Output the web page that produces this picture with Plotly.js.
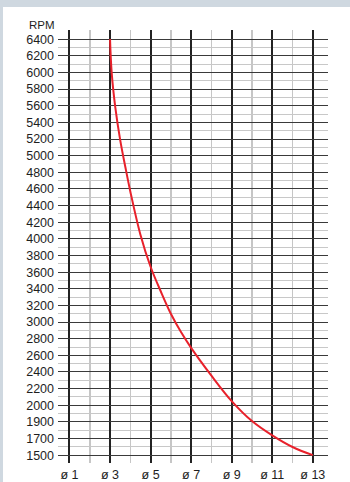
<!DOCTYPE html>
<html>
<head>
<meta charset="utf-8">
<script src="https://cdn.plot.ly/plotly-3.0.1.min.js"></script>
<style>
  html, body { margin: 0; padding: 0; width: 350px; height: 482px; background: #cfd8e0; overflow: hidden; }
  #chart { position: absolute; left: 3px; top: 7px; width: 347px; height: 475px; background: #ffffff; }
</style>
</head>
<body>
<div id="chart"></div>
<script>
// Y axis labels (bottom to top), evenly spaced rows
const rpmLabels = [1500, 1700, 1900, 2000, 2200, 2400, 2600, 2800, 3000, 3200, 3400, 3600, 3800,
                   4000, 4200, 4400, 4600, 4800, 5000, 5200, 5400, 5600, 5800, 6000, 6200, 6400];
// X axis: diameters
const diamTicks = [1, 3, 5, 7, 9, 11, 13];
const diamTickText = ["ø 1", "ø 3", "ø 5", "ø 7", "ø 9", "ø 11", "ø 13"];

// Curve: RPM vs diameter
const curveDiam = [3, 3.08, 3.26, 3.5, 3.75, 4, 4.5, 5, 5.5, 6, 6.5, 7, 8, 9, 10, 11, 12, 13];
const curveRpm  = [6400, 6000, 5580, 5190, 4870, 4570, 4050, 3665, 3370, 3100, 2880, 2690, 2356, 2050, 1905, 1738, 1598, 1500];

// The chart's RPM axis is row-based (uneven steps); map RPM to row position
function rpmToRow(v) {
  for (let i = 0; i < rpmLabels.length - 1; i++) {
    const a = rpmLabels[i], b = rpmLabels[i + 1];
    if (v >= a && v <= b) return i + (v - a) / (b - a);
  }
  return v < rpmLabels[0] ? 0 : rpmLabels.length - 1;
}

const rowIdx = rpmLabels.map((_, i) => i);

const trace = {
  x: curveDiam,
  y: curveRpm.map(rpmToRow),
  customdata: curveRpm,
  type: 'scatter',
  mode: 'lines',
  line: { color: '#e8212b', width: 2, shape: 'spline', smoothing: 1 },
  hovertemplate: 'ø %{x}<br>%{customdata} RPM<extra></extra>'
};

const tf = { family: 'Liberation Sans, Arial, sans-serif', size: 12.5, color: '#1e1e1e' };

const layout = {
  width: 347,
  height: 475,
  margin: { l: 54.5, r: 22, t: 22.5, b: 19 },
  paper_bgcolor: '#ffffff',
  plot_bgcolor: '#ffffff',
  showlegend: false,
  font: tf,
  xaxis: {
    range: [0.434, 13.75],
    tickmode: 'array',
    tickvals: diamTicks,
    ticktext: diamTickText,
    showgrid: true,
    gridcolor: '#222222',
    gridwidth: 2,
    zeroline: false,
    showline: false,
    ticks: '',
    ticklabelstandoff: 2,
    tickfont: tf,
    minor: { tickmode: 'linear', tick0: 0, dtick: 1, showgrid: true, gridcolor: '#c6c6c6', gridwidth: 1.5 },
    fixedrange: true
  },
  yaxis: {
    range: [-0.47, 25.55],
    tickmode: 'array',
    tickvals: rowIdx,
    ticktext: rpmLabels.map(String),
    showgrid: true,
    gridcolor: '#3a3a3a',
    gridwidth: 1,
    zeroline: false,
    showline: false,
    ticks: '',
    ticklabelstandoff: 3,
    tickfont: tf,
    minor: { tickmode: 'linear', tick0: 0, dtick: 0.5, showgrid: true, gridcolor: '#c8c8c8', gridwidth: 1 },
    fixedrange: true
  },
  annotations: [{
    text: 'RPM',
    xref: 'paper', yref: 'paper',
    x: 0, y: 1,
    xanchor: 'right', yanchor: 'bottom',
    xshift: -1, yshift: -3,
    showarrow: false,
    font: { family: 'Liberation Sans, Arial, sans-serif', size: 11.5, color: '#1e1e1e' }
  }]
};

Plotly.newPlot('chart', [trace], layout, { displayModeBar: false, staticPlot: true });
</script>
</body>
</html>
